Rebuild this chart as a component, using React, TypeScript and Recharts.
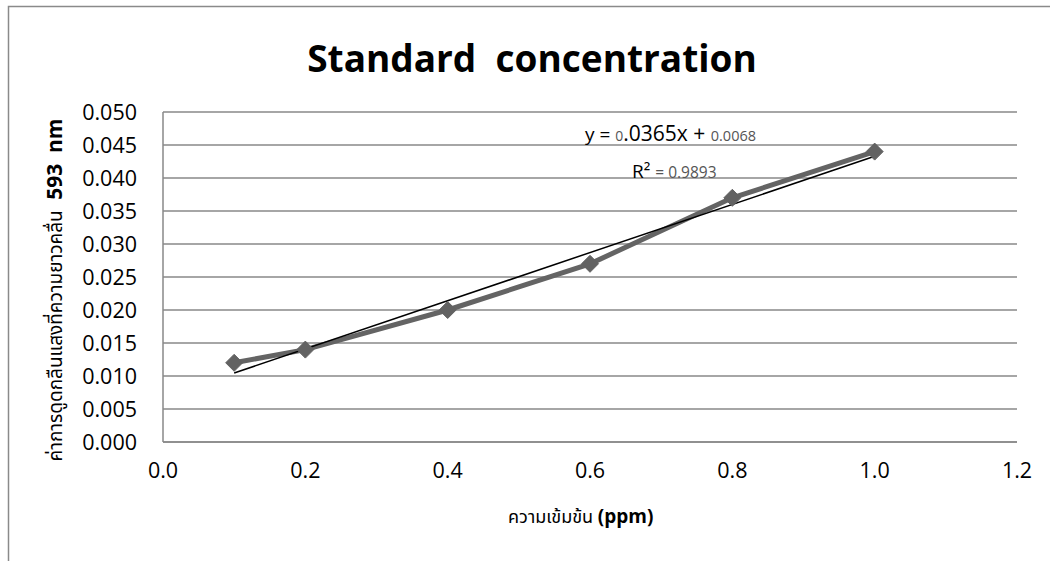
import React from "react";
import {
  ComposedChart,
  Line,
  XAxis,
  YAxis,
  CartesianGrid,
  ReferenceLine,
  Customized,
} from "recharts";

const concentrations = [0.1, 0.2, 0.4, 0.6, 0.8, 1.0];
const absorbances = [0.012, 0.014, 0.02, 0.027, 0.037, 0.044];
const xTicks = [0, 0.2, 0.4, 0.6, 0.8, 1.0, 1.2];
const yTicks = [0, 0.005, 0.01, 0.015, 0.02, 0.025, 0.03, 0.035, 0.04, 0.045, 0.05];
const trendSlope = 0.0365;
const trendIntercept = 0.0068;
const trendRange = [0.1, 1.0];
const rSquared = "0.9893";

const data = concentrations.map((x, i) => ({ x, y: absorbances[i] }));

const FONT = "'Open Sans', 'Noto Sans', 'Noto Sans Thai', sans-serif";

const Diamond = (props: any) => {
  const { cx, cy } = props;
  if (cx == null || cy == null) return null;
  const r = 8.5;
  return (
    <path
      d={`M${cx},${cy - r} L${cx + r},${cy} L${cx},${cy + r} L${cx - r},${cy} Z`}
      fill="#626262"
      stroke="#626262"
      strokeWidth={1}
    />
  );
};

const Decorations = () => (
  <g>
    <path d="M8.5,561 L8.5,6.5 L1050,6.5" fill="none" stroke="#8a8a8a" strokeWidth={1.5} />
    <text
      x={532}
      y={72}
      textAnchor="middle"
      fontFamily={FONT}
      fontWeight="bold"
      fontSize={37}
      fill="#000"
    >
      Standard{"\u00a0\u00a0"}concentration
    </text>
    <text x={585} y={141} fontFamily={FONT} fill="#000">
      <tspan fontSize={19}>y = </tspan>
      <tspan fontSize={14} fill="#555">0</tspan>
      <tspan fontSize={21}>.0365x + </tspan>
      <tspan fontSize={14.5} fill="#555">0.0068</tspan>
    </text>
    <text x={632} y={178} fontFamily={FONT} fill="#000">
      <tspan fontSize={19}>R² </tspan>
      <tspan fontSize={15.5} fill="#555">= {rSquared}</tspan>
    </text>
    <text
      x={508}
      y={523}
      textAnchor="start"
      fontFamily={FONT}
      fontSize={18}
      fill="#000"
    >
      <tspan>ความเข้มข้น </tspan>
      <tspan fontWeight="bold" fontSize={19}>(ppm)</tspan>
    </text>
    <text
      x={0}
      y={0}
      transform="translate(62,290) rotate(-90)"
      textAnchor="middle"
      fontFamily={FONT}
      fontSize={19}
      fill="#000"
    >
      <tspan>ค่าการดูดกลืนแสงที่ความยาวคลื่น </tspan>
      <tspan fontWeight="bold" fontSize={21}>{"\u00a0593\u00a0\u00a0nm"}</tspan>
    </text>
  </g>
);

export default function App() {
  return (
    <div style={{ position: "absolute", left: 0, top: 0, background: "#fff" }}>
      <ComposedChart
        width={1050}
        height={561}
        data={data}
        margin={{ top: 112, right: 33, left: 0, bottom: 0 }}
      >
        <CartesianGrid vertical={false} stroke="#888" strokeWidth={1.3} />
        <XAxis
          dataKey="x"
          type="number"
          domain={[0, 1.2]}
          ticks={xTicks}
          tickFormatter={(v: number) => v.toFixed(1)}
          height={119}
          tickLine={false}
          tickSize={0}
          tickMargin={21}
          axisLine={{ stroke: "#888", strokeWidth: 1.5 }}
          tick={{ fill: "#000", fontSize: 21.5, fontFamily: FONT }}
          interval={0}
        />
        <YAxis
          type="number"
          domain={[0, 0.05]}
          ticks={yTicks}
          tickFormatter={(v: number) => v.toFixed(3)}
          width={163}
          tickLine={false}
          tickSize={0}
          tickMargin={26}
          axisLine={{ stroke: "#888", strokeWidth: 1.5 }}
          tick={{ fill: "#000", fontSize: 21.5, fontFamily: FONT }}
          interval={0}
        />
        <Line
          dataKey="y"
          type="linear"
          stroke="#646464"
          strokeWidth={5}
          dot={<Diamond />}
          activeDot={false}
          isAnimationActive={false}
        />
        <ReferenceLine
          segment={[
            { x: trendRange[0], y: trendSlope * trendRange[0] + trendIntercept },
            { x: trendRange[1], y: trendSlope * trendRange[1] + trendIntercept },
          ]}
          stroke="#000"
          strokeWidth={1.5}
          ifOverflow="visible"
        />
        <Customized component={Decorations} />
      </ComposedChart>
    </div>
  );
}
